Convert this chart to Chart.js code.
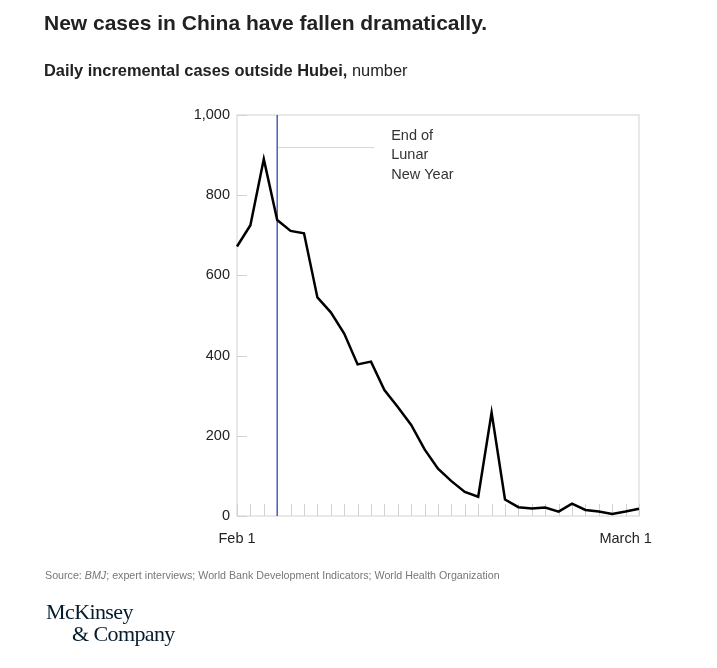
<!DOCTYPE html>
<html>
<head>
<meta charset="utf-8">
<script src="https://cdn.jsdelivr.net/npm/chart.js@4.4.0/dist/chart.umd.min.js"></script>
<style>
    body { margin: 0; background: #fff; font-family: "Liberation Sans", Arial, sans-serif; }
    #wrap { position: relative; width: 717px; height: 668px; overflow: hidden; }
    #chart { position: absolute; left: 0; top: 0; }
    .title { position: absolute; left: 44px; top: 11px; font-size: 21px; font-weight: bold; color: #222; white-space: nowrap; }
    .subtitle { position: absolute; left: 44px; top: 61px; font-size: 16.4px; color: #222; white-space: nowrap; }
    .subtitle b { font-weight: bold; }
    .source { position: absolute; left: 45px; top: 569px; font-size: 10.7px; color: #777; white-space: nowrap; }
    .logo { position: absolute; left: 46px; top: 601px; font-family: "Liberation Serif", "DejaVu Serif", serif; font-size: 22px; line-height: 22px; color: #051c2c; letter-spacing: -0.6px; }
    .logo span { display: block; }
    .logo span + span { padding-left: 26px; }
</style>
</head>
<body>
<div id="wrap">
    <canvas id="chart" width="717" height="668"></canvas>
    <div class="title">New cases in China have fallen dramatically.</div>
    <div class="subtitle"><b>Daily incremental cases outside Hubei,</b> number</div>
    <div class="source">Source: <i>BMJ</i>; expert interviews; World Bank Development Indicators; World Health Organization</div>
    <div class="logo"><span>McKinsey</span><span>&amp; Company</span></div>
</div>
<script>
// 날짜 (2020년 2월 1일 ~ 3월 2일)
const dayLabels = [
    'Feb 1', 'Feb 2', 'Feb 3', 'Feb 4', 'Feb 5', 'Feb 6', 'Feb 7', 'Feb 8', 'Feb 9', 'Feb 10',
    'Feb 11', 'Feb 12', 'Feb 13', 'Feb 14', 'Feb 15', 'Feb 16', 'Feb 17', 'Feb 18', 'Feb 19', 'Feb 20',
    'Feb 21', 'Feb 22', 'Feb 23', 'Feb 24', 'Feb 25', 'Feb 26', 'Feb 27', 'Feb 28', 'Feb 29', 'Mar 1',
    'Mar 2'
];
// 후베이 외 일일 신규 확진자 수
const newCases = [
    672, 725, 890, 738, 711, 705, 545, 508, 455, 378,
    385, 314, 272, 227, 166, 118, 87, 60, 48, 258,
    41, 22, 19, 21, 11, 31, 15, 11, 5, 11,
    18
];
const yTicks = [0, 200, 400, 600, 800, 1000];
const shownDates = { 'Feb 1': 'Feb 1', 'Mar 1': 'March 1' };
const lunarDate = 'Feb 4';
const lunarText = ['End of', 'Lunar', 'New Year'];

// 안쪽 눈금, 테두리, 음력 설날 표시
const frameAndNotes = {
    id: 'frameAndNotes',
    beforeDatasetsDraw(chart) {
        const { ctx, chartArea: a, scales: { x, y } } = chart;
        ctx.save();
        ctx.strokeStyle = '#d2d2d2';
        ctx.lineWidth = 1;
        ctx.strokeRect(a.left, a.top, a.right - a.left, a.bottom - a.top);

        ctx.beginPath();
        dayLabels.forEach((d, i) => {
            const px = Math.round(x.getPixelForValue(i)) + 0.5;
            ctx.moveTo(px, a.bottom);
            ctx.lineTo(px, a.bottom - 12);
        });
        yTicks.forEach(v => {
            const py = Math.round(y.getPixelForValue(v)) + 0.5;
            ctx.moveTo(a.left, py);
            ctx.lineTo(a.left + 10, py);
        });
        ctx.stroke();

        const lx = x.getPixelForValue(dayLabels.indexOf(lunarDate));
        const ly = y.getPixelForValue(920);
        ctx.strokeStyle = '#d8d8d8';
        ctx.beginPath();
        ctx.moveTo(lx, Math.round(ly) + 0.5);
        ctx.lineTo(lx + 97, Math.round(ly) + 0.5);
        ctx.stroke();

        ctx.strokeStyle = '#3d55b3';
        ctx.lineWidth = 1.4;
        ctx.beginPath();
        ctx.moveTo(lx, a.top);
        ctx.lineTo(lx, a.bottom);
        ctx.stroke();

        ctx.fillStyle = '#333';
        ctx.font = '14.5px "Liberation Sans", Arial, sans-serif';
        ctx.textBaseline = 'middle';
        lunarText.forEach((t, i) => {
            ctx.fillText(t, lx + 114, ly - 11.5 + i * 19.5);
        });
        ctx.restore();
    }
};

const ctx = document.getElementById('chart');
new Chart(ctx, {
    type: 'line',
    data: {
        labels: dayLabels,
        datasets: [{
            data: newCases,
            borderColor: '#000',
            borderWidth: 2.5,
            pointRadius: 0,
            tension: 0,
            fill: false
        }]
    },
    plugins: [frameAndNotes],
    options: {
        responsive: false,
        animation: false,
        layout: { padding: { left: 0, top: 115, right: 78, bottom: 112 } },
        plugins: {
            legend: { display: false },
            tooltip: { enabled: false }
        },
        scales: {
            x: {
                grid: { display: false, drawTicks: false },
                border: { display: false },
                afterFit: scale => { scale.height = 40; },
                ticks: {
                    autoSkip: false,
                    maxRotation: 0,
                    padding: 14,
                    color: '#222',
                    font: { family: '"Liberation Sans", Arial, sans-serif', size: 14.5 },
                    callback: function(value) {
                        return shownDates[dayLabels[value]] || '';
                    }
                }
            },
            y: {
                min: 0,
                max: 1000,
                grid: { display: false, drawTicks: false },
                border: { display: false },
                afterFit: scale => { scale.width = 237; },
                afterBuildTicks: scale => { scale.ticks = yTicks.map(v => ({ value: v })); },
                ticks: {
                    padding: 7,
                    color: '#222',
                    font: { family: '"Liberation Sans", Arial, sans-serif', size: 14.5 },
                    callback: value => value.toLocaleString('en-US')
                }
            }
        }
    }
});
</script>
</body>
</html>
